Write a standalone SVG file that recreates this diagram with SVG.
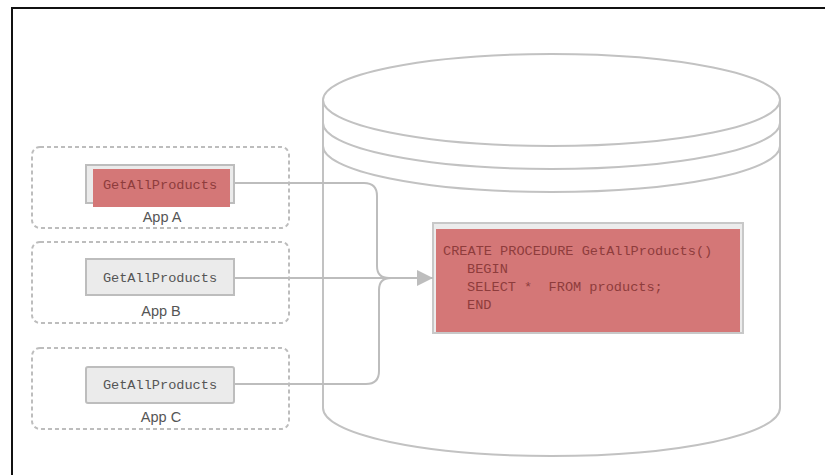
<svg xmlns="http://www.w3.org/2000/svg" width="825" height="475" viewBox="0 0 825 475">
<style>
.frame{fill:none;stroke:#111;stroke-width:2}
.cyl{fill:none;stroke:#c2c2c2;stroke-width:2}
.app{fill:none;stroke:#bdbdbd;stroke-width:2;stroke-dasharray:4 3}
.fn{fill:#ebebeb;stroke:#bdbdbd;stroke-width:2}
.mono{font-family:"Liberation Mono","DejaVu Sans Mono",monospace;font-size:13.6px}
.lbl{font-family:"Liberation Sans","Open Sans",sans-serif;font-size:14.5px;fill:#555}
.conn{fill:none;stroke:#bdbdbd;stroke-width:2}
.red{fill:#d47777}
.pre{white-space:pre}
</style>
<defs>
<marker id="arr" markerWidth="18" markerHeight="18" refX="16" refY="8" orient="auto" markerUnits="userSpaceOnUse">
<path d="M0,0 L16,8 L0,16 Z" fill="#bdbdbd"/>
</marker>
</defs>
<rect x="0" y="0" width="825" height="475" fill="#fff"/>
<path class="frame" d="M12,475 V8 H825"/>

<g id="database">
<path class="cyl" d="M323,100 A228.5,46 0 0 1 780,100 A228.5,46 0 0 1 323,100 Z"/>
<path class="cyl" d="M323,123 A228.5,46 0 0 0 780,123"/>
<path class="cyl" d="M323,146 A228.5,46 0 0 0 780,146"/>
<path class="cyl" d="M323,100 V408 A228.5,48 0 0 0 780,408 V100"/>
</g>

<g id="appA">
<rect class="app" x="32" y="147" width="257" height="81" rx="8"/>
<rect class="fn" x="86" y="165" width="148" height="38"/>
<rect class="red" x="93" y="169" width="137" height="38"/>
<text class="mono" x="160" y="189" text-anchor="middle" fill="#8e3c3c">GetAllProducts</text>
<text class="lbl" x="162" y="222" text-anchor="middle">App A</text>
</g>

<g id="appB">
<rect class="app" x="32" y="242" width="257" height="81" rx="8"/>
<rect class="fn" x="86" y="259" width="148" height="36"/>
<text class="mono" x="160" y="282" text-anchor="middle" fill="#555">GetAllProducts</text>
<text class="lbl" x="161" y="316" text-anchor="middle">App B</text>
</g>

<g id="appC">
<rect class="app" x="32" y="348" width="257" height="81" rx="8"/>
<rect class="fn" x="86" y="367" width="148" height="36" rx="2"/>
<text class="mono" x="160" y="389" text-anchor="middle" fill="#555">GetAllProducts</text>
<text class="lbl" x="161" y="422" text-anchor="middle">App C</text>
</g>

<g id="procedure">
<rect x="433" y="223" width="310" height="110" fill="#ececec" stroke="#c8c8c8" stroke-width="2"/>
<rect class="red" x="436" y="229" width="304" height="103"/>
<g class="mono" fill="#8e3c3c">
<text x="443" y="255">CREATE PROCEDURE GetAllProducts()</text>
<text x="467" y="273">BEGIN</text>
<text class="pre" x="467" y="291" xml:space="preserve">SELECT *  FROM products;</text>
<text x="467" y="309">END</text>
</g>
</g>

<g id="connectors">
<path class="conn" d="M234,183 H364 Q377,183 377,196 V266 Q377,278 389,278 H418"/>
<path class="conn" d="M234,278 H433" marker-end="url(#arr)"/>
<path class="conn" d="M234,384 H366 Q379,384 379,371 V290 Q379,278 391,278 H418"/>
</g>
</svg>
